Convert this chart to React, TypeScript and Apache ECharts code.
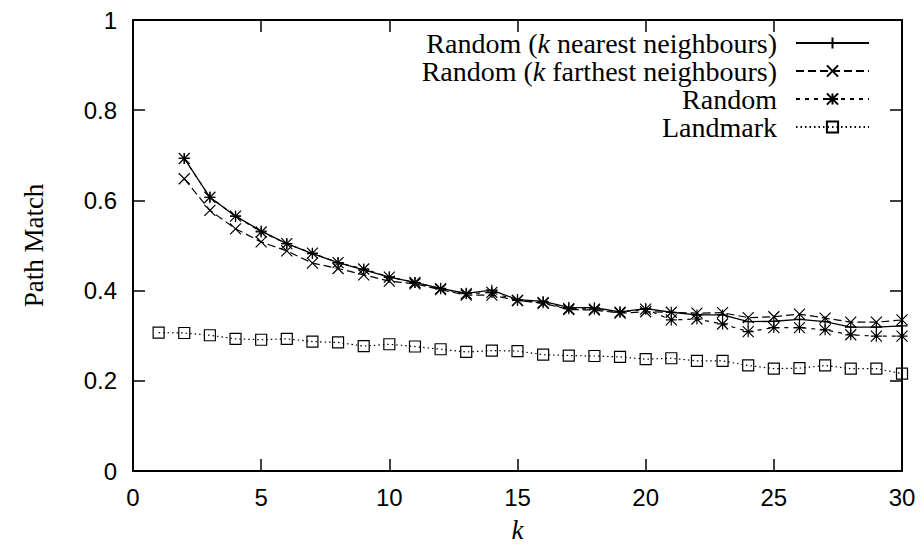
import React, { useEffect, useRef } from "react";
import * as echarts from "echarts";

const kNeighbours = [2, 3, 4, 5, 6, 7, 8, 9, 10, 11, 12, 13, 14, 15, 16, 17, 18, 19, 20, 21, 22, 23, 24, 25, 26, 27, 28, 29, 30];
const kLandmark = [1, 2, 3, 4, 5, 6, 7, 8, 9, 10, 11, 12, 13, 14, 15, 16, 17, 18, 19, 20, 21, 22, 23, 24, 25, 26, 27, 28, 29, 30];

const nearestValues = [0.693, 0.607, 0.565, 0.532, 0.504, 0.482, 0.462, 0.446, 0.430, 0.418, 0.405, 0.394, 0.401, 0.380, 0.376, 0.363, 0.362, 0.353, 0.360, 0.352, 0.346, 0.346, 0.331, 0.332, 0.336, 0.331, 0.319, 0.319, 0.322];
const farthestValues = [0.648, 0.578, 0.537, 0.508, 0.488, 0.461, 0.449, 0.435, 0.421, 0.415, 0.402, 0.390, 0.390, 0.378, 0.372, 0.358, 0.357, 0.350, 0.353, 0.352, 0.350, 0.351, 0.340, 0.342, 0.348, 0.339, 0.330, 0.330, 0.335];
const randomValues = [0.693, 0.607, 0.565, 0.530, 0.504, 0.483, 0.462, 0.448, 0.430, 0.418, 0.404, 0.393, 0.396, 0.378, 0.373, 0.360, 0.359, 0.352, 0.359, 0.335, 0.337, 0.326, 0.309, 0.318, 0.318, 0.313, 0.302, 0.299, 0.299];
const landmarkValues = [0.307, 0.306, 0.301, 0.293, 0.291, 0.293, 0.287, 0.285, 0.277, 0.281, 0.276, 0.270, 0.264, 0.267, 0.266, 0.258, 0.256, 0.255, 0.253, 0.248, 0.250, 0.244, 0.244, 0.234, 0.227, 0.228, 0.234, 0.227, 0.227, 0.216];

const seriesNames = [
  "Random (k nearest neighbours)",
  "Random (k farthest neighbours)",
  "Random",
  "Landmark",
];
const legendLabels: Record<string, string> = {
  "Random (k nearest neighbours)": "Random ({i|k} nearest neighbours)",
  "Random (k farthest neighbours)": "Random ({i|k} farthest neighbours)",
  Random: "Random",
  Landmark: "Landmark",
};

const xTicks = { min: 0, max: 30, interval: 5 };
const yTicks = { min: 0, max: 1, interval: 0.2 };

const PLUS = "path://M5 0L5 10M0 5L10 5";
const CROSS = "path://M0 0L10 10M10 0L0 10";
const STAR = "path://M5 0L5 10M0 5L10 5M0 0L10 10M10 0L0 10";
const SQUARE = "path://M0 0L10 0L10 10L0 10Z";

export default function App() {
  const ref = useRef<HTMLDivElement>(null);
  useEffect(() => {
    if (!ref.current) return;
    const chart = echarts.init(ref.current, undefined, { renderer: "svg" });
    const pair = (xs: number[], ys: number[]) => xs.map((x, i) => [x, ys[i]]);
    const axisLine = { show: true, onZero: false, lineStyle: { color: "#000", width: 2 } };
    const axisTick = { show: true, inside: true, length: 12, lineStyle: { color: "#000", width: 1.5 } };
    const labelFont = { fontFamily: "Liberation Sans", fontSize: 24, color: "#000" };
    const mk = (name: string, data: number[][], symbol: string, dash: any, lw: number) => ({
      type: "line",
      name,
      data,
      symbol,
      symbolSize: 11,
      showSymbol: true,
      clip: false,
      lineStyle: { color: "#000", width: lw, type: dash },
      itemStyle: { color: "none", borderColor: "#000", borderWidth: 1.2 },
      emphasis: { disabled: true },
    });
    chart.setOption({
      animation: false,
      backgroundColor: "#fff",
      grid: { left: 133, top: 20, width: 769, height: 451, containLabel: false },
      legend: {
        orient: "vertical",
        align: "right",
        right: 53,
        top: 29,
        padding: 0,
        itemGap: 0,
        itemWidth: 73,
        itemHeight: 14,
        data: seriesNames,
        formatter: (n: string) => legendLabels[n],
        textStyle: {
          fontFamily: "Liberation Serif",
          fontSize: 28,
          lineHeight: 26,
          color: "#000",
          padding: [0, 14, 0, 0],
          rich: {
            i: { fontFamily: "Liberation Serif", fontSize: 28, fontStyle: "italic", lineHeight: 26, color: "#000" },
          },
        },
        selectedMode: false,
      },
      xAxis: [
        {
          type: "value",
          ...xTicks,
          position: "bottom",
          name: "k",
          nameLocation: "middle",
          nameGap: 45,
          nameTextStyle: { fontFamily: "Liberation Serif", fontStyle: "italic", fontSize: 27, color: "#000" },
          axisLine,
          axisTick,
          axisLabel: { ...labelFont, margin: 14 },
          splitLine: { show: false },
        },
        {
          type: "value",
          ...xTicks,
          position: "top",
          axisLine,
          axisTick,
          axisLabel: { show: false },
          splitLine: { show: false },
        },
      ],
      yAxis: [
        {
          type: "value",
          ...yTicks,
          position: "left",
          name: "Path Match",
          nameLocation: "middle",
          nameGap: 86,
          nameRotate: 90,
          nameTextStyle: { fontFamily: "Liberation Serif", fontSize: 27, color: "#000" },
          axisLine,
          axisTick,
          axisLabel: { ...labelFont, margin: 16 },
          splitLine: { show: false },
        },
        {
          type: "value",
          ...yTicks,
          position: "right",
          axisLine,
          axisTick,
          axisLabel: { show: false },
          splitLine: { show: false },
        },
      ],
      series: [
        mk(seriesNames[0], pair(kNeighbours, nearestValues), PLUS, "solid", 1.3),
        mk(seriesNames[1], pair(kNeighbours, farthestValues), CROSS, [8, 4], 1.2),
        mk(seriesNames[2], pair(kNeighbours, randomValues), STAR, [4, 5], 1.2),
        mk(seriesNames[3], pair(kLandmark, landmarkValues), SQUARE, [1.5, 3], 1.2),
      ],
    });
    return () => chart.dispose();
  }, []);
  return <div ref={ref} style={{ position: "fixed", left: 0, top: 0, width: 923, height: 550 }} />;
}
